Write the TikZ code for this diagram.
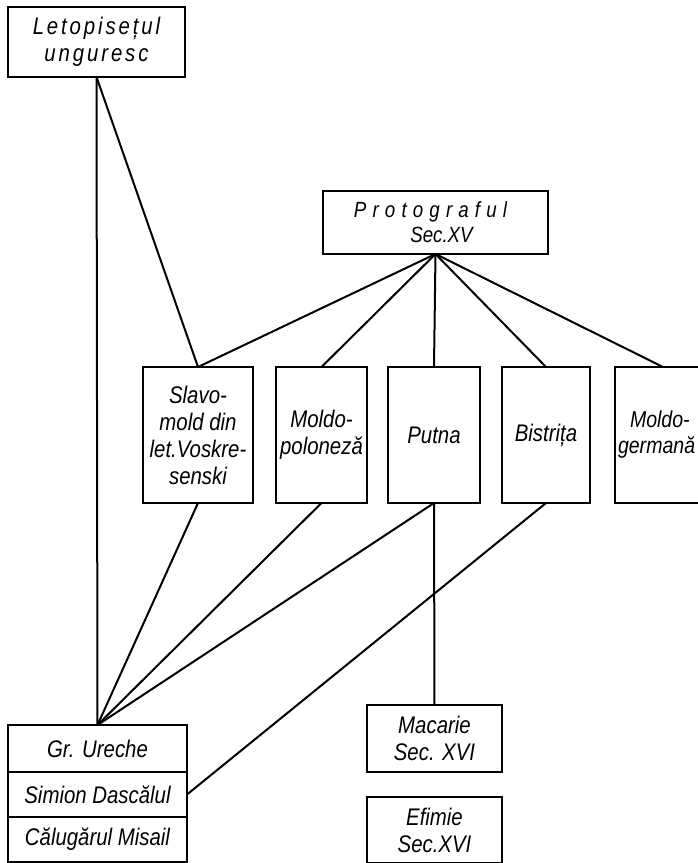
\documentclass[tikz,border=0pt]{standalone}
\usepackage{fontspec}
\setmainfont{Liberation Sans}[FakeStretch=0.85]
\usetikzlibrary{positioning}

\begin{document}
\begin{tikzpicture}[x=1pt, y=-1pt,
    box/.style={draw, line width=2.6pt, rectangle, inner sep=0pt, outer sep=0pt,
      font=\fontsize{24}{27}\selectfont\itshape, align=center},
    mid box/.style={box, minimum height=136pt},
    link/.style={line width=2pt}]

        \useasboundingbox (0,0) rectangle (698,863);

        % sources at the top
        \node [box, minimum width=177pt, minimum height=70pt,
          font=\fontsize{24}{27}\selectfont\itshape\addfontfeature{LetterSpace=12}] (leto) at (96.5,42)
          {Letopisețul\\ungurеsc};
        \node [box, minimum width=225pt, minimum height=63pt,
          font=\fontsize{22}{25}\selectfont\itshape] (proto) at (435.5,222.5)
          {{\addfontfeature{LetterSpace=28}Protograful}\hspace*{10pt}\\\hspace*{12pt}Sec.XV};

        % the five chronicles
        \foreach \m/\x/\w/\t in {slavo/198/110/{Slavo-\\mold din\\let.Voskre-\\senski},
                                 polon/321.5/91/{Moldo-\\poloneză},
                                 putna/434/92/{Putna},
                                 bistr/546/88/{Bistrița}}
        \node [mid box, minimum width=\w pt] (\m) at (\x,435) {\t};
        \node [mid box, minimum width=96pt, font=\fontsize{23}{26}\selectfont\itshape,
          text width=90pt, align=left] (german) at (663,435) {\hspace*{12pt}Moldo-\\germană};

        % Ureche and his continuators
        \node [box, minimum width=179pt, minimum height=47pt] (ureche) at (97.5,748.5) {Gr. Ureche};
        \node [box, minimum width=179pt, minimum height=45pt, below=0pt of ureche] (simion) {Simion Dascălul};
        \node [box, minimum width=179pt, minimum height=45pt, below=0pt of simion] (misail) {Călugărul Misail};

        % later compilations
        \node [box, minimum width=135pt, minimum height=67pt] (macarie) at (434.5,738.5) {Macarie\\Sec. XVI};
        \node [box, minimum width=135pt, minimum height=66pt] (efimie) at (434.5,830) {Efimie\\Sec.XVI};

        % links
        \foreach \m in {slavo,polon,putna,bistr,german}
        \draw [link] (proto.south) -- (\m.north);

        \foreach \m in {slavo,polon,putna}
        \draw [link] (\m.south) -- (ureche.north);

        \draw [link] (leto.south) -- (ureche.north);
        \draw [link] (leto.south) -- (slavo.north);
        \draw [link] (bistr.south) -- (simion.east);
        \draw [link] (putna.south) -- (macarie.north);

      \end{tikzpicture}
\end{document}
